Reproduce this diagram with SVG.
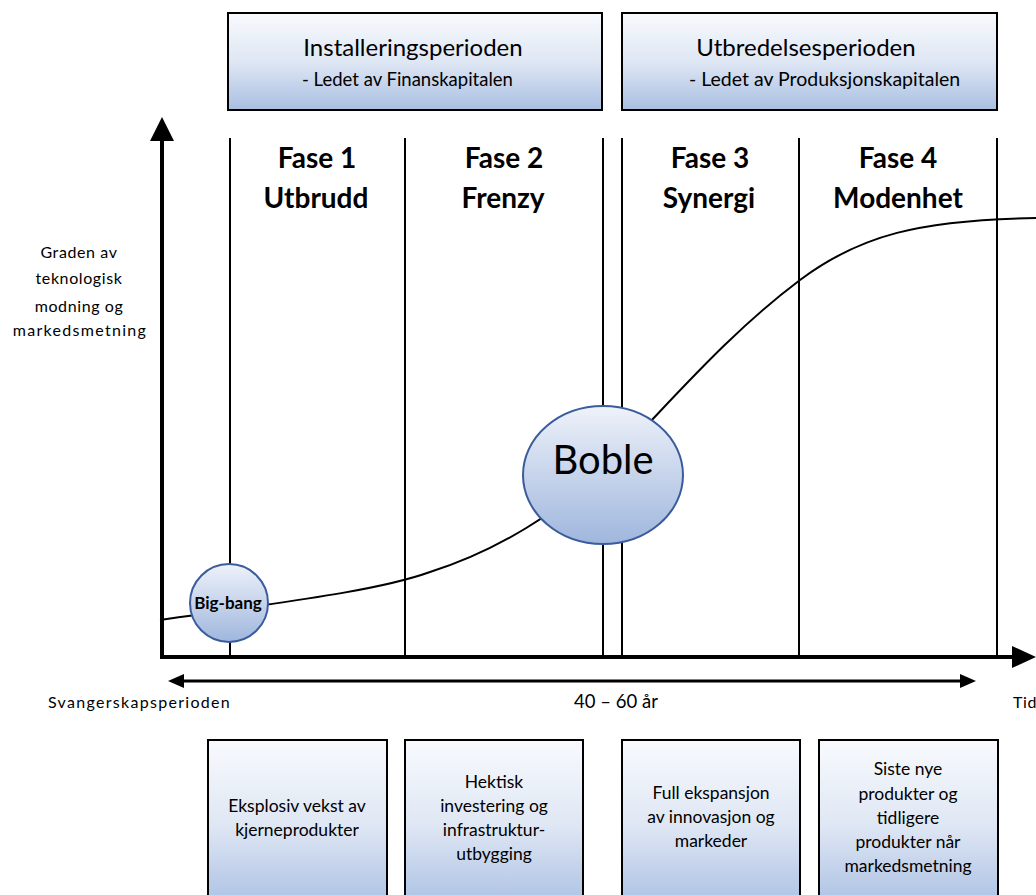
<svg xmlns="http://www.w3.org/2000/svg" width="1036" height="895" viewBox="0 0 1036 895">
<defs>
<linearGradient id="boxg" x1="0" y1="0" x2="0" y2="1">
<stop offset="0" stop-color="#f8fafd"/>
<stop offset="0.5" stop-color="#dfe7f4"/>
<stop offset="1" stop-color="#a9bfe2"/>
</linearGradient>
<linearGradient id="bubg" x1="0" y1="0" x2="0" y2="1">
<stop offset="0" stop-color="#eef2fa"/>
<stop offset="1" stop-color="#9fb6dd"/>
</linearGradient>
</defs>
<style>
text{font-family:Lato,"Open Sans","Liberation Sans",sans-serif;fill:#000}
.box{fill:url(#boxg);stroke:#000;stroke-width:2}
.bub{fill:url(#bubg);stroke:#3b5c9c;stroke-width:2}
.vl{stroke:#000;stroke-width:2;fill:none}
.ax{stroke:#000;stroke-width:4;fill:none}
.fase{font-size:28px;font-weight:bold;text-anchor:middle}
.t1{font-size:24px;text-anchor:middle}
.bt{font-size:17.5px;text-anchor:middle}
.lab{font-size:16px;letter-spacing:0.6px}
.wide{letter-spacing:1.3px}
</style>
<rect width="1036" height="895" fill="#fff"/>
<g id="connectors">
<line class="vl" x1="230" y1="138" x2="230" y2="655"/>
<line class="vl" x1="405" y1="138" x2="405" y2="655"/>
<line class="vl" x1="603" y1="138" x2="603" y2="655"/>
<line class="vl" x1="622" y1="138" x2="622" y2="655"/>
<line class="vl" x1="799" y1="138" x2="799" y2="655"/>
<line class="vl" x1="997" y1="138" x2="997" y2="655"/>
<path class="vl" d="M160,620 C300,600 380,590 430,572 C500,550 560,510 603,470 C660,415 720,340 800,280 C860,235 920,220 1036,218"/>
<line class="ax" x1="162" y1="657" x2="162" y2="140"/>
<polygon points="162,117 150,141 174,141" fill="#000"/>
<line class="ax" x1="160" y1="657" x2="1014" y2="657"/>
<polygon points="1036,657 1012,646 1012,668" fill="#000"/>
<line x1="182" y1="681" x2="962" y2="681" stroke="#000" stroke-width="3"/>
<polygon points="168,681 184,674 184,688" fill="#000"/>
<polygon points="976,681 960,674 960,688" fill="#000"/>
</g>
<g id="installering">
<rect class="box" x="228" y="13" width="374" height="97"/>
<text class="t1" x="413" y="56">Installeringsperioden</text>
<text x="302" y="86" font-size="18.5">- Ledet av Finanskapitalen</text>
</g>
<g id="utbredelse">
<rect class="box" x="622" y="13" width="375" height="97"/>
<text class="t1" x="806" y="56">Utbredelsesperioden</text>
<text x="689" y="86" font-size="19.5">- Ledet av Produksjonskapitalen</text>
</g>
<g id="fase1"><text class="fase" x="317" y="168">Fase 1</text><text class="fase" x="316" y="208">Utbrudd</text></g>
<g id="fase2"><text class="fase" x="504" y="168">Fase 2</text><text class="fase" x="503" y="208">Frenzy</text></g>
<g id="fase3"><text class="fase" x="710" y="168">Fase 3</text><text class="fase" x="709" y="208">Synergi</text></g>
<g id="fase4"><text class="fase" x="898" y="168">Fase 4</text><text class="fase" x="898" y="208">Modenhet</text></g>
<g id="yaxis-label">
<text class="lab" text-anchor="middle" x="79" y="258">Graden av</text>
<text class="lab" text-anchor="middle" x="79" y="284">teknologisk</text>
<text class="lab" text-anchor="middle" x="79" y="312">modning og</text>
<text class="lab wide" text-anchor="middle" x="80" y="336">markedsmetning</text>
</g>
<g id="bigbang">
<ellipse class="bub" cx="229" cy="603" rx="39" ry="39"/>
<text x="228" y="609" font-size="17" font-weight="bold" text-anchor="middle">Big-bang</text>
</g>
<g id="boble">
<ellipse class="bub" cx="603" cy="475" rx="80" ry="69"/>
<text x="603" y="474" font-size="40" text-anchor="middle">Boble</text>
</g>
<g id="timeline-labels">
<text class="lab wide" x="48" y="708">Svangerskapsperioden</text>
<text x="616" y="708" text-anchor="middle" font-size="18.5">40 – 60 år</text>
<text class="lab" x="1013" y="708">Tid</text>
</g>
<g id="box-fase1">
<rect class="box" x="208" y="740" width="179" height="170"/>
<text class="bt" x="297" y="812">Eksplosiv vekst av</text>
<text class="bt" x="297" y="836">kjerneprodukter</text>
</g>
<g id="box-fase2">
<rect class="box" x="405" y="740" width="178" height="170"/>
<text class="bt" x="494" y="788">Hektisk</text>
<text class="bt" x="494" y="812">investering og</text>
<text class="bt" x="494" y="836">infrastruktur-</text>
<text class="bt" x="494" y="860">utbygging</text>
</g>
<g id="box-fase3">
<rect class="box" x="622" y="740" width="178" height="170"/>
<text class="bt" x="711" y="799">Full ekspansjon</text>
<text class="bt" x="711" y="823">av innovasjon og</text>
<text class="bt" x="711" y="847">markeder</text>
</g>
<g id="box-fase4">
<rect class="box" x="819" y="740" width="179" height="170"/>
<text class="bt" x="908" y="775">Siste nye</text>
<text class="bt" x="908" y="800">produkter og</text>
<text class="bt" x="908" y="824">tidligere</text>
<text class="bt" x="908" y="848">produkter når</text>
<text class="bt" x="908" y="872">markedsmetning</text>
</g>
</svg>
